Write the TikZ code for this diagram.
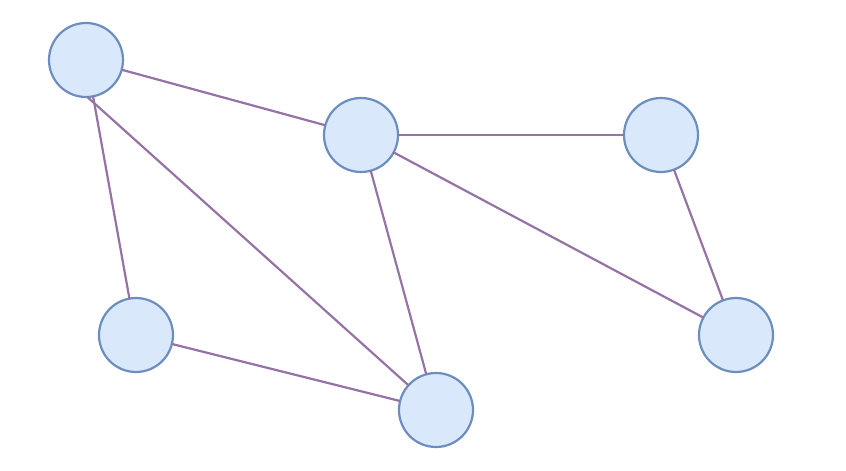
\documentclass[tikz,border=0pt]{standalone}
\definecolor{nodefill}{HTML}{DAE8FC}
\definecolor{nodedraw}{HTML}{6C8EBF}
\definecolor{edgecol}{HTML}{9673A6}
\begin{document}
\begin{tikzpicture}[x=1pt,y=-1pt,
  vert/.style={circle,draw=nodedraw,fill=nodefill,line width=2.2pt,minimum size=74pt,inner sep=0pt,outer sep=0pt},
  edge/.style={draw=edgecol,line width=2.2pt}]
\useasboundingbox (0,0) rectangle (846,471);
\node[vert] (A) at (86,60) {};
\node[vert] (B) at (361,135) {};
\node[vert] (C) at (661,135) {};
\node[vert] (D) at (136,335) {};
\node[vert] (E) at (436,410) {};
\node[vert] (F) at (736,335) {};
\draw[edge] (A) -- (B);
\draw[edge] (A.-79) -- (D);
\draw[edge] (A.-88) -- (E);
\draw[edge] (B) -- (C);
\draw[edge] (B) -- (E);
\draw[edge] (B) -- (F);
\draw[edge] (C) -- (F);
\draw[edge] (D) -- (E);
\end{tikzpicture}
\end{document}
